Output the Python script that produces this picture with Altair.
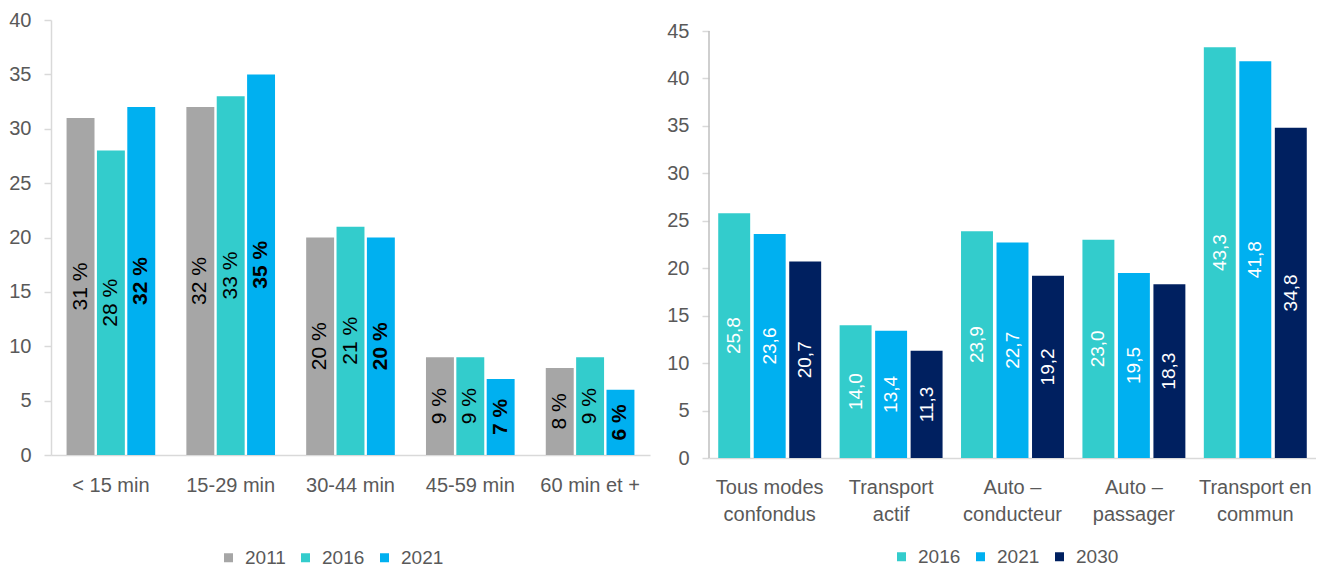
import altair as alt
import pandas as pd

FONT = "Liberation Sans"
AX = "#595959"

left_cats = ["< 15 min", "15-29 min", "30-44 min", "45-59 min", "60 min et +"]
left_years = ["2011", "2016", "2021"]
left_2011 = [31, 32, 20, 9, 8]
left_2016 = [28, 33, 21, 9, 9]
left_2021 = [32, 35, 20, 7, 6]
left_colors = ["#a6a6a6", "#33cccc", "#00b0f0"]
left_ticks = [0, 5, 10, 15, 20, 25, 30, 35, 40]

right_cats = ["Tous modes|confondus", "Transport|actif", "Auto –|conducteur",
              "Auto –|passager", "Transport en|commun"]
right_years = ["2016", "2021", "2030"]
right_2016 = [25.8, 14.0, 23.9, 23.0, 43.3]
right_2021 = [23.6, 13.4, 22.7, 19.5, 41.8]
right_2030 = [20.7, 11.3, 19.2, 18.3, 34.8]
right_colors = ["#33cccc", "#00b0f0", "#002060"]
right_ticks = [0, 5, 10, 15, 20, 25, 30, 35, 40, 45]

rows = []
for yr, vals in zip(left_years, [left_2011, left_2016, left_2021]):
    for c, v in zip(left_cats, vals):
        rows.append({"cat": c, "year": yr, "value": v, "mid": v / 2, "lab": f"{v} %"})
left_df = pd.DataFrame(rows)

rows = []
for yr, vals in zip(right_years, [right_2016, right_2021, right_2030]):
    for c, v in zip(right_cats, vals):
        rows.append({"cat": c, "year": yr, "value": v, "mid": v / 2,
                     "lab": f"{v:.1f}".replace(".", ",")})
right_df = pd.DataFrame(rows)


def y_axis(vals, domain=True):
    kw = dict(title=None, grid=False, values=vals, tickColor="#d9d9d9",
              tickSize=7, labelPadding=13, labelFontSize=20, labelColor=AX,
              labelFont=FONT, tickWidth=1.5)
    if domain:
        kw.update(domainColor="#d9d9d9", domainWidth=1.5)
    else:
        kw.update(domain=False)
    return alt.Axis(**kw)


def legend(x, y):
    return alt.Legend(title=None, orient="none", legendX=x, legendY=y, direction="horizontal",
                      symbolType="square", symbolSize=81, symbolStrokeWidth=0,
                      labelFontSize=19, labelColor=AX, labelFont=FONT,
                      columnPadding=10, labelOffset=7)


# Left chart
lbase = alt.Chart(left_df).encode(
    x=alt.X("cat:N", sort=left_cats,
            scale=alt.Scale(paddingInner=0.26, paddingOuter=0.13),
            axis=alt.Axis(title=None, labelAngle=0, ticks=False, labelPadding=20,
                          domainColor="#d9d9d9", domainWidth=1.5, labelFontSize=20,
                          labelColor=AX, labelFont=FONT)),
    xOffset=alt.XOffset("year:N", sort=left_years,
                        scale=alt.Scale(domain=left_years, paddingInner=0.08, paddingOuter=0)),
)
lbars = lbase.mark_bar().encode(
    y=alt.Y("value:Q", scale=alt.Scale(domain=[0, 40]), axis=y_axis(left_ticks)),
    color=alt.Color("year:N", scale=alt.Scale(domain=left_years, range=left_colors),
                    legend=legend(168, 528)),
)
ltext = lbase.transform_filter("datum.year != '2021'").mark_text(
    angle=270, baseline="middle", align="center", fontSize=21, font=FONT, color="#000000"
).encode(y="mid:Q", text="lab:N")
ltextb = lbase.transform_filter("datum.year == '2021'").mark_text(
    angle=270, baseline="middle", align="center", fontSize=21, font=FONT, color="#000000",
    fontWeight="bold"
).encode(y="mid:Q", text="lab:N")
left = alt.layer(lbars, ltext, ltextb).properties(width=599, height=435)

# Right chart (y domain extends slightly above 45 so its plot sits lower than the left one)
rbase = alt.Chart(right_df).encode(
    x=alt.X("cat:N", sort=right_cats,
            scale=alt.Scale(paddingInner=0.152, paddingOuter=0.076),
            axis=alt.Axis(title=None, labelAngle=0, ticks=False, labelPadding=19,
                          labelExpr="split(datum.label, '|')", labelLineHeight=27,
                          domainColor="#d9d9d9", domainWidth=1.5, labelFontSize=20,
                          labelColor=AX, labelFont=FONT)),
    xOffset=alt.XOffset("year:N", sort=right_years,
                        scale=alt.Scale(domain=right_years, paddingInner=0.1, paddingOuter=0)),
)
rbars = rbase.mark_bar().encode(
    y=alt.Y("value:Q", scale=alt.Scale(domain=[0, 46.16], nice=False),
            axis=y_axis(right_ticks, domain=False)),
    color=alt.Color("year:N", scale=alt.Scale(domain=right_years, range=right_colors),
                    legend=legend(183, 527)),
)
raxis = alt.Chart(pd.DataFrame({"y0": [0], "y1": [45]})).mark_rule(
    color="#bfbfbf", strokeWidth=1.5
).encode(x=alt.value(0), y="y0:Q", y2="y1:Q")
rtext = rbase.mark_text(
    angle=270, baseline="middle", align="center", fontSize=19, font=FONT, color="#ffffff"
).encode(y="mid:Q", text="lab:N")
right = alt.layer(rbars, raxis, rtext).properties(width=607, height=438)

chart = alt.hconcat(left, right, spacing=16).resolve_scale(
    color="independent", x="independent", y="independent", xOffset="independent"
).resolve_legend(color="independent").properties(
    padding={"left": 0, "top": 2, "right": 0, "bottom": 0}
).configure_view(strokeWidth=0)

chart.save("out.html", embed_options={"renderer": "svg", "actions": False})
